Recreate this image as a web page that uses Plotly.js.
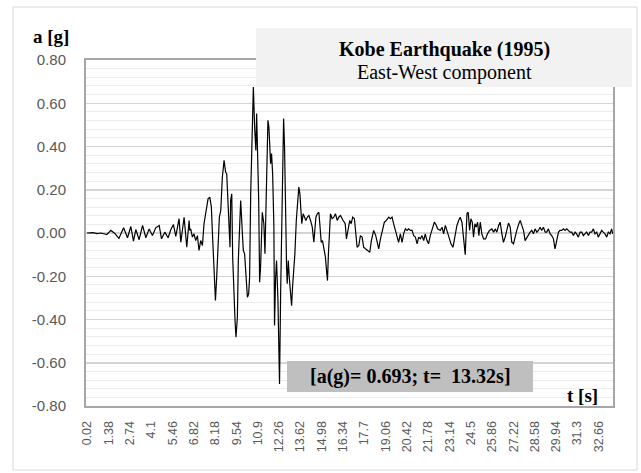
<!DOCTYPE html>
<html><head><meta charset="utf-8">
<script src="https://cdn.plot.ly/plotly-3.0.1.min.js"></script>
<style>body{margin:0;background:#fff}#chart{width:641px;height:473px}</style>
</head><body><div id="chart"></div>
<script>
// Time (s) and ground acceleration (g)
const time_s = [
 0,0.38,0.64,0.89,1.27,1.53,1.78,2.04,2.34,2.59,2.80,2.97,3.12,3.33,3.55,3.76,3.97,4.18,4.39,4.61,4.76,4.97,5.18,5.35,5.52,5.67,5.88,5.99,6.20,6.37,6.52,
 6.56,6.62,6.73,6.83,6.94,7.05,7.15,7.26,7.37,7.47,7.58,7.73,7.84,7.94,8.01,8.11,8.20,8.28,8.36,8.45,8.54,8.64,8.75,8.85,8.92,9.00,9.06,9.13,9.17,9.24,9.30,9.38,9.45,9.51,9.60,9.66,9.75,9.81,9.92,9.98,
 10.06,10.15,10.24,10.32,10.38,10.45,10.53,10.62,10.70,10.78,10.83,10.91,10.96,11.02,11.08,11.19,11.29,11.36,11.45,11.55,11.61,11.68,11.72,11.78,11.85,11.93,11.97,
 12.04,12.10,12.19,12.25,12.29,12.36,12.42,12.48,12.55,12.61,12.68,12.74,12.78,12.85,12.91,12.99,13.06,13.12,13.19,13.27,13.36,13.44,13.52,13.59,13.65,13.71,13.80,13.89,13.97,
 14.06,14.16,14.27,14.38,14.48,14.54,14.61,14.70,14.80,14.86,14.95,15.03,15.12,15.22,15.29,15.35,15.41,15.48,15.54,15.65,15.75,15.86,15.97,16.07,
 16.18,16.35,16.48,16.56,16.65,16.77,16.86,16.96,17.07,17.15,17.24,17.35,17.45,17.56,17.66,17.77,17.92,18.05,18.15,18.30,18.43,18.52,18.62,18.73,18.86,18.98,
 19.11,19.26,19.36,19.47,19.57,19.68,19.79,19.89,20.00,20.11,20.21,20.32,20.43,20.53,20.64,20.75,20.85,20.96,21.07,21.17,21.28,21.38,21.49,21.59,21.70,21.80,21.91,
 22.02,22.17,22.30,22.38,22.55,22.66,22.76,22.87,22.97,23.08,23.23,23.36,23.48,23.61,23.72,23.82,23.93,23.99,24.08,24.14,24.25,24.33,24.42,24.50,24.59,24.67,24.76,24.84,24.93,
 25.01,25.10,25.20,25.31,25.44,25.56,25.69,25.84,25.95,26.05,26.16,26.27,26.37,26.48,26.58,26.69,26.80,26.90,27.01,27.11,27.22,27.33,27.43,27.56,27.65,27.75,27.86,27.96,
 28.07,28.18,28.28,28.39,28.49,28.60,28.71,28.81,28.92,29.02,29.13,29.24,29.34,29.45,29.56,29.66,29.77,29.87,29.98,30.09,30.19,30.30,30.41,30.51,30.62,30.72,30.83,30.94,
 31.04,31.15,31.25,31.36,31.47,31.57,31.68,31.78,31.89,32.00,32.10,32.21,32.32,32.42,32.53,32.63,32.74,32.85,32.95,33.06,33.17,33.27,33.38,33.48,33.55
];
const accel_g = [
 0,0.002,-0.003,0,-0.007,0.012,-0.002,-0.025,0.024,-0.022,0.030,-0.038,0.016,-0.031,0.035,-0.022,0.019,-0.012,0.024,0.035,-0.027,0.004,-0.022,0.015,0.039,-0.016,0.066,-0.043,0.073,-0.066,0.058,
 0.012,0.019,-0.019,-0.004,-0.035,-0.012,-0.081,-0.035,-0.058,0.043,0.089,0.158,0.166,0.12,-0.004,-0.158,-0.312,-0.205,-0.066,0.073,0.104,0.258,0.336,0.281,0.274,0.15,-0.004,-0.066,0.15,0.181,-0.112,-0.312,-0.405,-0.482,-0.39,-0.127,0.104,0.15,-0.004,-0.081,
 -0.096,-0.189,-0.297,-0.281,-0.205,0.181,0.428,0.675,0.49,0.382,0.552,0.351,0.15,-0.228,-0.158,0.096,0.043,-0.096,0.212,0.521,0.49,0.367,0.32,0.367,0.274,0.027,-0.428,
 -0.205,-0.127,-0.312,-0.529,-0.698,-0.281,0.027,0.336,0.529,0.397,0.027,-0.158,-0.235,-0.127,-0.205,-0.281,-0.336,-0.251,-0.189,-0.096,0.058,0.12,0.212,0.181,0.073,0.043,0.089,0.073,0.058,
 0.073,0.081,0.058,0.027,-0.043,0.027,0.073,0.089,0.096,0.043,-0.043,-0.035,-0.066,-0.112,-0.174,-0.22,-0.096,0.058,0.089,0.066,0.073,0.089,0.058,0.073,
 0.081,0.058,0.043,-0.027,0.012,0.058,0.043,0.073,0.066,0.012,-0.066,-0.058,-0.012,-0.019,-0.066,-0.073,-0.081,-0.089,-0.035,0.012,-0.012,-0.043,-0.073,-0.027,0.012,0.050,
 0.058,0.073,0.066,0.073,0.043,0.012,-0.012,-0.043,-0.004,-0.043,-0.004,0.019,0.012,0.019,0.012,0.012,-0.012,-0.019,-0.050,-0.019,-0.027,-0.012,-0.035,-0.004,-0.035,-0.050,-0.012,
 0.012,0.050,0.035,0.019,0.012,0.027,-0.004,0.035,0.012,-0.019,-0.050,-0.066,-0.019,0.035,0.058,0.073,0.050,0.012,-0.066,-0.100,0.089,0.096,0.012,0.066,0.050,-0.019,0.043,0.027,0.050,
 -0.012,0.050,-0.004,-0.027,-0.027,-0.004,0.012,0.019,0.004,0.019,0.004,0.035,0.050,-0.004,-0.043,-0.019,0.012,0.046,0.027,-0.043,-0.050,-0.012,0.012,0.043,0.058,0.035,0.012,-0.035,
 -0.019,-0.004,0.004,0.012,-0.004,0.019,0.004,0.012,0.027,0.012,0.027,0.004,0.004,0.019,-0.004,-0.012,-0.027,-0.073,-0.035,0.004,0.012,0.012,0.019,0.012,0.019,0.012,0.004,0.004,
 -0.012,0.004,-0.004,-0.019,0.004,0.004,-0.012,-0.004,0.004,-0.012,0.004,0.004,0.019,-0.004,0.004,-0.019,-0.004,0.012,0.004,-0.004,-0.019,0.004,-0.004,0.019,-0.004
];
const xTickVals = [0.02,1.38,2.74,4.1,5.46,6.82,8.18,9.54,10.9,12.26,13.62,14.98,16.34,17.7,19.06,20.42,21.78,23.14,24.5,25.86,27.22,28.58,29.94,31.3,32.66];
const xTickText = ['0.02','1.38','2.74','4.1','5.46','6.82','8.18','9.54','10.9','12.26','13.62','14.98','16.34','17.7','19.06','20.42','21.78','23.14','24.5','25.86','27.22','28.58','29.94','31.3','32.66'];
const yTickVals = [-0.8,-0.6,-0.4,-0.2,0,0.2,0.4,0.6,0.8];
const yTickText = ['-0.80','-0.60','-0.40','-0.20','0.00','0.20','0.40','0.60','0.80'];
const chartTitle = 'Kobe Earthquake (1995)';
const chartSubtitle = 'East-West component';
const peakLabel = '[a(g)= 0.693; t=\u00a0 13.32s]';
const yLabel = 'a [g]';
const xLabel = 't [s]';

const W = 641, H = 473, M = {l: 86, r: 28, t: 60, b: 67};
const pw = W - M.l - M.r, ph = H - M.t - M.b;
const px = x => (x - M.l) / pw;
const py = y => (H - M.b - y) / ph;
const serif = 'Liberation Serif, Times New Roman, serif';

const trace = {
  x: time_s, y: accel_g, type: 'scatter', mode: 'lines',
  line: {color: '#000000', width: 1.2}, hoverinfo: 'skip'
};

const layout = {
  width: W, height: H, margin: M,
  paper_bgcolor: '#ffffff', plot_bgcolor: '#ffffff',
  showlegend: false,
  xaxis: {
    range: [-0.06, 33.57], showgrid: false, zeroline: false,
    tickmode: 'array', tickvals: xTickVals, ticktext: xTickText,
    tickangle: -90, ticks: '', ticklabelstandoff: 8,
    tickfont: {family: 'Liberation Sans, Arial, sans-serif', size: 12.5, color: '#595959'},
    showline: true, mirror: true, linecolor: '#a6a6a6', linewidth: 2
  },
  yaxis: {
    range: [-0.8, 0.8], zeroline: false,
    tickmode: 'array', tickvals: yTickVals, ticktext: yTickText,
    ticks: '', ticklabelstandoff: 15,
    tickfont: {family: 'Liberation Sans, Arial, sans-serif', size: 15, color: '#595959'},
    showgrid: true, gridcolor: '#d4d4d4', gridwidth: 1.5,
    minor: {dtick: 0.04, showgrid: true, gridcolor: '#ececec', gridwidth: 1},
    showline: true, mirror: true, linecolor: '#a6a6a6', linewidth: 2
  },
  shapes: [
    {type: 'rect', xref: 'paper', yref: 'paper', x0: px(13), x1: px(637), y0: py(7), y1: py(470),
     line: {color: '#d9d9d9', width: 1}, fillcolor: 'rgba(0,0,0,0)', layer: 'above'},
    {type: 'rect', xref: 'paper', yref: 'paper', x0: px(256), x1: px(632), y0: py(28), y1: py(87),
     line: {width: 0}, fillcolor: '#f2f2f2', layer: 'above'},
    {type: 'rect', xref: 'paper', yref: 'paper', x0: px(287), x1: px(533), y0: py(361), y1: py(392),
     line: {width: 0}, fillcolor: '#bfbfbf', layer: 'above'}
  ],
  annotations: [
    {xref: 'paper', yref: 'paper', x: px(444), y: py(49), text: '<b>' + chartTitle + '</b>', showarrow: false,
     xanchor: 'center', yanchor: 'middle', font: {family: serif, size: 20, color: '#000'}},
    {xref: 'paper', yref: 'paper', x: px(444), y: py(72), text: chartSubtitle, showarrow: false,
     xanchor: 'center', yanchor: 'middle', font: {family: serif, size: 20, color: '#000'}},
    {xref: 'paper', yref: 'paper', x: px(410), y: py(376), text: '<b>' + peakLabel + '</b>', showarrow: false,
     xanchor: 'center', yanchor: 'middle', font: {family: serif, size: 20, color: '#000'}},
    {xref: 'paper', yref: 'paper', x: px(582), y: py(395), text: '<b>' + xLabel + '</b>', showarrow: false,
     xanchor: 'center', yanchor: 'middle', font: {family: serif, size: 19, color: '#000'}},
    {xref: 'paper', yref: 'paper', x: px(51), y: py(37), text: '<b>' + yLabel + '</b>', showarrow: false,
     xanchor: 'center', yanchor: 'middle', font: {family: serif, size: 19, color: '#000'}}
  ]
};

Plotly.newPlot('chart', [trace], layout, {displayModeBar: false, staticPlot: true});
</script>
</body></html>
